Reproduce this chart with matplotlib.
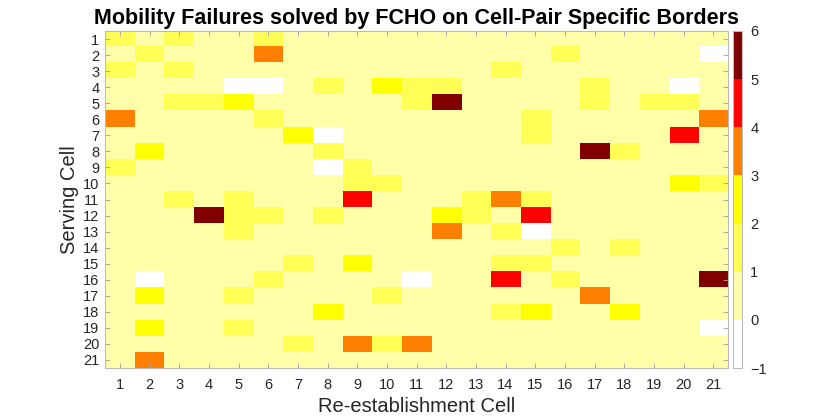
import numpy as np
import matplotlib
matplotlib.use("Agg")
import matplotlib.pyplot as plt
from matplotlib.colors import ListedColormap, BoundaryNorm

plt.rcParams['font.family'] = ['Liberation Sans', 'DejaVu Sans']

title = "Mobility Failures solved by FCHO on Cell-Pair Specific Borders"
xlabel = "Re-establishment Cell"
ylabel = "Serving Cell"
serving_cells = list(range(1, 22))
reest_cells = list(range(1, 22))

# non-zero entries per serving cell: {re-establishment cell: value}; all others are 0
row1 = {1: 1, 3: 1, 6: 1}
row2 = {2: 1, 6: 3, 16: 1, 21: -1}
row3 = {1: 1, 3: 1, 14: 1}
row4 = {5: -1, 6: -1, 8: 1, 10: 2, 11: 1, 12: 1, 17: 1, 20: -1}
row5 = {3: 1, 4: 1, 5: 2, 11: 1, 12: 5, 17: 1, 19: 1, 20: 1}
row6 = {1: 3, 6: 1, 15: 1, 21: 3}
row7 = {7: 2, 8: -1, 15: 1, 20: 4}
row8 = {2: 2, 8: 1, 17: 5, 18: 1}
row9 = {1: 1, 8: -1, 9: 1}
row10 = {9: 1, 10: 1, 20: 2, 21: 1}
row11 = {3: 1, 5: 1, 9: 4, 13: 1, 14: 3, 15: 1}
row12 = {4: 5, 5: 1, 6: 1, 8: 1, 12: 2, 13: 1, 15: 4}
row13 = {5: 1, 12: 3, 14: 1, 15: -1}
row14 = {16: 1, 18: 1}
row15 = {7: 1, 9: 2, 14: 1, 15: 1}
row16 = {2: -1, 6: 1, 11: -1, 14: 4, 16: 1, 21: 5}
row17 = {2: 2, 5: 1, 10: 1, 17: 3}
row18 = {8: 2, 14: 1, 15: 2, 18: 2}
row19 = {2: 2, 5: 1, 21: -1}
row20 = {7: 1, 9: 3, 10: 1, 11: 3}
row21 = {2: 3}
rows = [row1, row2, row3, row4, row5, row6, row7, row8, row9, row10, row11,
        row12, row13, row14, row15, row16, row17, row18, row19, row20, row21]

levels = [-1, 0, 1, 2, 3, 4, 5, 6]
colors = ['#FFFFFF', '#FFFFAA', '#FFFF55', '#FFFF00', '#FF8000', '#FF0000', '#800000']

Z = np.zeros((len(serving_cells), len(reest_cells)))
for i, r in enumerate(rows):
    for c, v in r.items():
        Z[i, c - 1] = v

cmap = ListedColormap(colors)
norm = BoundaryNorm(levels, cmap.N)

fig = plt.figure(figsize=(8.3, 4.19), dpi=100)
ax = fig.add_axes([105/830, 1-368/419, (728-105)/830, (368-31)/419])
cax = fig.add_axes([733/830, 1-368/419, 9/830, (368-31)/419])

im = ax.imshow(Z, cmap=cmap, norm=norm, aspect='auto', interpolation='nearest',
               extent=(0.5, len(reest_cells)+0.5, len(serving_cells)+0.5, 0.5))
ax.set_xticks(reest_cells)
ax.set_yticks(serving_cells)
ax.tick_params(direction='in', length=3.5, width=0.6, color='#A0A0A0',
               top=True, right=True, labelsize=10.5, labelcolor='#262626')
ax.tick_params(axis='y', pad=4)
ax.tick_params(axis='x', pad=7)
for s in ax.spines.values():
    s.set_color('#BBBBBB')
    s.set_linewidth(0.8)
ax.set_title(title, fontsize=15.5, fontweight='bold', pad=5)
ax.set_xlabel(xlabel, fontsize=14.5, color='#262626', labelpad=4)
ax.set_ylabel(ylabel, fontsize=14.5, color='#262626', labelpad=3)

cb = fig.colorbar(im, cax=cax, ticks=levels)
cb.ax.tick_params(length=0, labelsize=10.5, labelcolor='#262626', pad=6)
cb.outline.set_edgecolor('#BBBBBB')
cb.outline.set_linewidth(0.8)

fig.savefig('out.png', dpi=100)
